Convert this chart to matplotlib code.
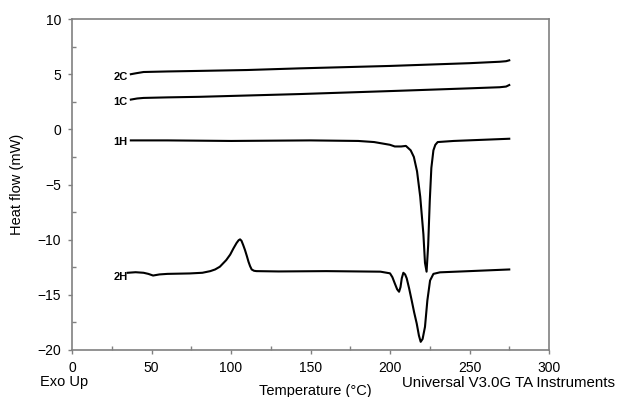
import matplotlib
matplotlib.use("Agg")
import matplotlib.pyplot as plt
import matplotlib.ticker as ticker

plt.rcParams['font.family'] = ['Liberation Sans', 'DejaVu Sans']

# curve data (temperature in C, heat flow in mW)
t_2c = [37, 40, 45, 60, 80, 110, 143, 200, 250, 269, 273, 275]
hf_2c = [5.0, 5.08, 5.2, 5.25, 5.3, 5.38, 5.53, 5.75, 6.0, 6.13, 6.18, 6.26]

t_1c = [37, 41, 45, 60, 80, 143, 206, 250, 269, 273, 275]
hf_1c = [2.7, 2.8, 2.85, 2.9, 2.95, 3.2, 3.5, 3.72, 3.82, 3.88, 4.02]

t_1h = [37, 60, 100, 150, 180, 190, 196, 200, 203, 207, 210, 213, 215, 217,
        219, 221, 222, 223, 224, 225, 226, 227.3, 228.5, 230, 240, 275]
hf_1h = [-1.0, -1.0, -1.05, -1.0, -1.05, -1.15, -1.3, -1.4, -1.55, -1.55,
         -1.5, -1.9, -2.5, -3.8, -6.1, -9.5, -12.1, -12.9, -10.5, -6.5,
         -3.5, -1.9, -1.4, -1.15, -1.05, -0.85]

t_2h = [35, 40, 45, 48, 51, 55, 60, 74, 82, 87, 90, 93, 97, 99.5, 101.5,
        103.5, 104.8, 105.7, 106.6, 107.7, 108.8, 110, 111, 112, 113, 114.5,
        116, 130, 160, 194, 200, 201.5, 203, 204.5, 205.7, 206.6, 207.4,
        208.4, 209.5, 210.5, 212, 213.6, 215.2, 216.8, 218.2, 219.3, 220.5,
        222, 223.5, 225.2, 227.3, 231.4, 250, 275]
hf_2h = [-13.0, -12.95, -13.0, -13.1, -13.25, -13.15, -13.1, -13.06, -13.0,
         -12.85, -12.7, -12.45, -11.85, -11.35, -10.8, -10.3, -10.05, -9.97,
         -10.1, -10.5, -10.94, -11.5, -12.0, -12.4, -12.7, -12.82, -12.85,
         -12.88, -12.85, -12.9, -13.05, -13.4, -13.96, -14.5, -14.72, -14.3,
         -13.5, -13.0, -13.15, -13.5, -14.4, -15.48, -16.6, -17.6, -18.7,
         -19.26, -19.0, -17.9, -15.5, -13.7, -13.1, -12.96, -12.85, -12.7]

curves = [('2C', t_2c, hf_2c, 4.75), ('1C', t_1c, hf_1c, 2.5),
          ('1H', t_1h, hf_1h, -1.1), ('2H', t_2h, hf_2h, -13.35)]

fig = plt.figure(figsize=(6.17, 3.97), dpi=100)
ax = fig.add_axes([0.1167, 0.1184, 0.7731, 0.8336])

for name, t, hf, label_y in curves:
    ax.plot(t, hf, color='black', lw=1.5)
    ax.text(35, label_y, name, ha='right', va='center', fontsize=8,
            fontweight='bold')

ax.set_xlim(0, 300)
ax.set_ylim(-20, 10)
ax.xaxis.set_major_locator(ticker.MultipleLocator(50))
ax.xaxis.set_minor_locator(ticker.MultipleLocator(25))
ax.yaxis.set_major_locator(ticker.MultipleLocator(5))
ax.yaxis.set_minor_locator(ticker.MultipleLocator(2.5))
ax.yaxis.set_major_formatter(ticker.FuncFormatter(
    lambda v, p: f'{v:.0f}'.replace('-', '\u2212')))

ax.tick_params(which='major', direction='out', length=3, width=1,
               color='#808080', labelsize=10, pad=5)
ax.tick_params(which='minor', direction='in', length=3, width=1,
               color='#808080')
for sp in ax.spines.values():
    sp.set_color('#808080')
    sp.set_linewidth(1.2)

ax.set_ylabel('Heat flow (mW)', fontsize=10.5)
ax.yaxis.set_label_coords(-0.1, 0.5)

fig.text(0.0648, 0.038, 'Exo Up', ha='left', va='center', fontsize=10.5)
fig.text(0.5105, 0.016, 'Temperature (\u00b0C)', ha='center', va='center',
         fontsize=10.5)
fig.text(0.6515, 0.035, 'Universal V3.0G TA Instruments', ha='left',
         va='center', fontsize=10.8)

fig.savefig('out.png', dpi=100)
